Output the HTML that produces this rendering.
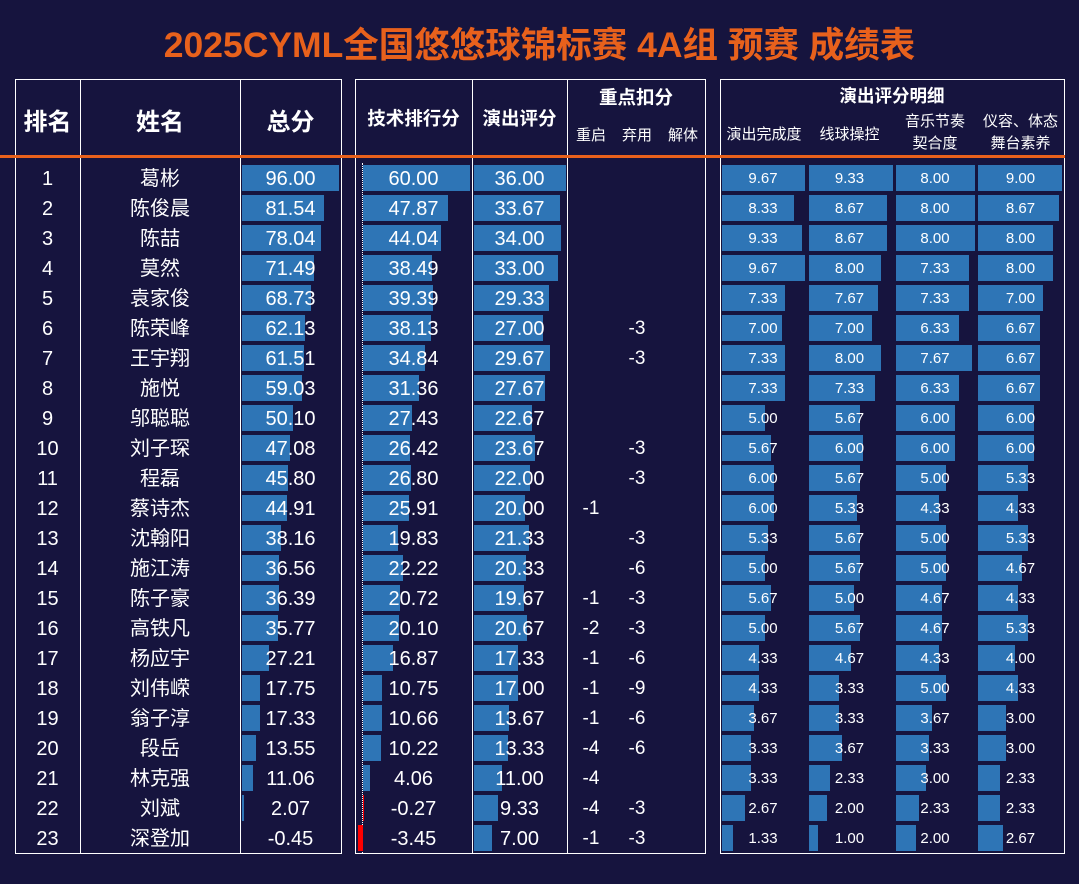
<!DOCTYPE html>
<html><head><meta charset="utf-8">
<style>
body{margin:0;width:1079px;height:884px;background:#16143e;position:relative;overflow:hidden;font-family:"Liberation Sans","Noto Sans CJK SC",sans-serif;color:#fff}
.a{position:absolute}
.t{position:absolute;text-align:center;white-space:nowrap}
.b{position:absolute;background:#2e75b6}
.box{position:absolute;border:1px solid #fff;box-sizing:border-box}
.vl{position:absolute;width:1px;background:#fff}
</style></head><body>
<div class="t" style="left:0;width:1079px;top:22px;font-size:35.5px;font-weight:bold;color:#e8611c;line-height:46px">2025CYML全国悠悠球锦标赛 4A组 预赛 成绩表</div>
<div class="box" style="left:15px;top:79px;width:327px;height:775px"></div>
<div class="vl" style="left:80px;top:79px;height:775px"></div>
<div class="vl" style="left:240px;top:79px;height:775px"></div>
<div class="box" style="left:355px;top:79px;width:351px;height:775px"></div>
<div class="vl" style="left:472px;top:79px;height:775px"></div>
<div class="vl" style="left:567px;top:79px;height:775px"></div>
<div class="box" style="left:720px;top:79px;width:345px;height:775px"></div>
<div class="a" style="left:0;top:155px;width:1065px;height:3px;background:#e8611c"></div>
<div class="a" style="left:362px;top:163px;height:690px;border-left:1px dotted #fff"></div>
<div class="t" style="left:15px;width:65px;top:102px;font-size:24px;font-weight:bold">排名</div>
<div class="t" style="left:80px;width:160px;top:102px;font-size:24px;font-weight:bold">姓名</div>
<div class="t" style="left:240px;width:101px;top:102px;font-size:24px;font-weight:bold">总分</div>
<div class="t" style="left:355px;width:117px;top:105px;font-size:18.5px;font-weight:bold">技术排行分</div>
<div class="t" style="left:472px;width:95px;top:105px;font-size:18.5px;font-weight:bold">演出评分</div>
<div class="t" style="left:567px;width:138px;top:84px;font-size:18.5px;font-weight:bold">重点扣分</div>
<div class="t" style="left:568px;width:46px;top:124px;font-size:15px">重启</div>
<div class="t" style="left:614px;width:46px;top:124px;font-size:15px">弃用</div>
<div class="t" style="left:660px;width:46px;top:124px;font-size:15px">解体</div>
<div class="t" style="left:720px;width:344px;top:83px;font-size:17.5px;font-weight:bold">演出评分明细</div>
<div class="t" style="left:720px;width:88px;top:123px;font-size:15px">演出完成度</div>
<div class="t" style="left:806px;width:87px;top:123px;font-size:15px">线球操控</div>
<div class="t" style="left:893px;width:84px;top:111px;font-size:15px;line-height:22px">音乐节奏<br>契合度</div>
<div class="t" style="left:977px;width:87px;top:111px;font-size:15px;line-height:22px">仪容、体态<br>舞台素养</div>
<div id="rows"></div>
<script>
var D=[
["葛彬","96.00","60.00","36.00","","","",9.67,9.33,8.00,9.00],
["陈俊晨","81.54","47.87","33.67","","","",8.33,8.67,8.00,8.67],
["陈喆","78.04","44.04","34.00","","","",9.33,8.67,8.00,8.00],
["莫然","71.49","38.49","33.00","","","",9.67,8.00,7.33,8.00],
["袁家俊","68.73","39.39","29.33","","","",7.33,7.67,7.33,7.00],
["陈荣峰","62.13","38.13","27.00","","-3","",7.00,7.00,6.33,6.67],
["王宇翔","61.51","34.84","29.67","","-3","",7.33,8.00,7.67,6.67],
["施悦","59.03","31.36","27.67","","","",7.33,7.33,6.33,6.67],
["邬聪聪","50.10","27.43","22.67","","","",5.00,5.67,6.00,6.00],
["刘子琛","47.08","26.42","23.67","","-3","",5.67,6.00,6.00,6.00],
["程磊","45.80","26.80","22.00","","-3","",6.00,5.67,5.00,5.33],
["蔡诗杰","44.91","25.91","20.00","-1","","",6.00,5.33,4.33,4.33],
["沈翰阳","38.16","19.83","21.33","","-3","",5.33,5.67,5.00,5.33],
["施江涛","36.56","22.22","20.33","","-6","",5.00,5.67,5.00,4.67],
["陈子豪","36.39","20.72","19.67","-1","-3","",5.67,5.00,4.67,4.33],
["高铁凡","35.77","20.10","20.67","-2","-3","",5.00,5.67,4.67,5.33],
["杨应宇","27.21","16.87","17.33","-1","-6","",4.33,4.67,4.33,4.00],
["刘伟嵘","17.75","10.75","17.00","-1","-9","",4.33,3.33,5.00,4.33],
["翁子淳","17.33","10.66","13.67","-1","-6","",3.67,3.33,3.67,3.00],
["段岳","13.55","10.22","13.33","-4","-6","",3.33,3.67,3.33,3.00],
["林克强","11.06","4.06","11.00","-4","","",3.33,2.33,3.00,2.33],
["刘斌","2.07","-0.27","9.33","-4","-3","",2.67,2.00,2.33,2.33],
["深登加","-0.45","-3.45","7.00","-1","-3","",1.33,1.00,2.00,2.67]];
var h="";
function T(l,w,y,s,txt){return '<div class="t" style="left:'+l+'px;width:'+w+'px;top:'+(y+1)+'px;font-size:'+s+'px;line-height:26px">'+txt+'</div>';}
function B(l,w,y,c){return '<div class="b" style="left:'+l+'px;width:'+Math.max(0,w)+'px;top:'+y+'px;height:26px'+(c?';background:'+c:'')+'"></div>';}
var dx=[[722,8.6,720,86],[809,9,806,87],[896,9.9,893,84],[978,9.33,977,87]];
for(var i=0;i<D.length;i++){var r=D[i],y=165+30*i;
var tv=parseFloat(r[1]);if(tv>0)h+=B(242,tv*1.01,y);
var k=parseFloat(r[2]);if(k>0)h+=B(363,k*1.78,y);else h+=B(363+k*1.5,-k*1.5,y,'#ff0000');
h+=B(474,parseFloat(r[3])*2.56,y);
for(var j=0;j<4;j++){h+=B(dx[j][0],r[7+j]*dx[j][1],y);}
h+=T(15,65,y,20,i+1)+T(80,160,y,20,r[0])+T(240,101,y,20,r[1])+T(355,117,y,20,r[2])+T(472,95,y,20,r[3]);
h+=T(568,46,y,19,r[4])+T(614,46,y,19,r[5])+T(660,46,y,19,r[6]);
for(var j=0;j<4;j++)h+=T(dx[j][2],dx[j][3],y,15,r[7+j].toFixed(2));
}
document.getElementById("rows").innerHTML=h;
</script>
</body></html>
